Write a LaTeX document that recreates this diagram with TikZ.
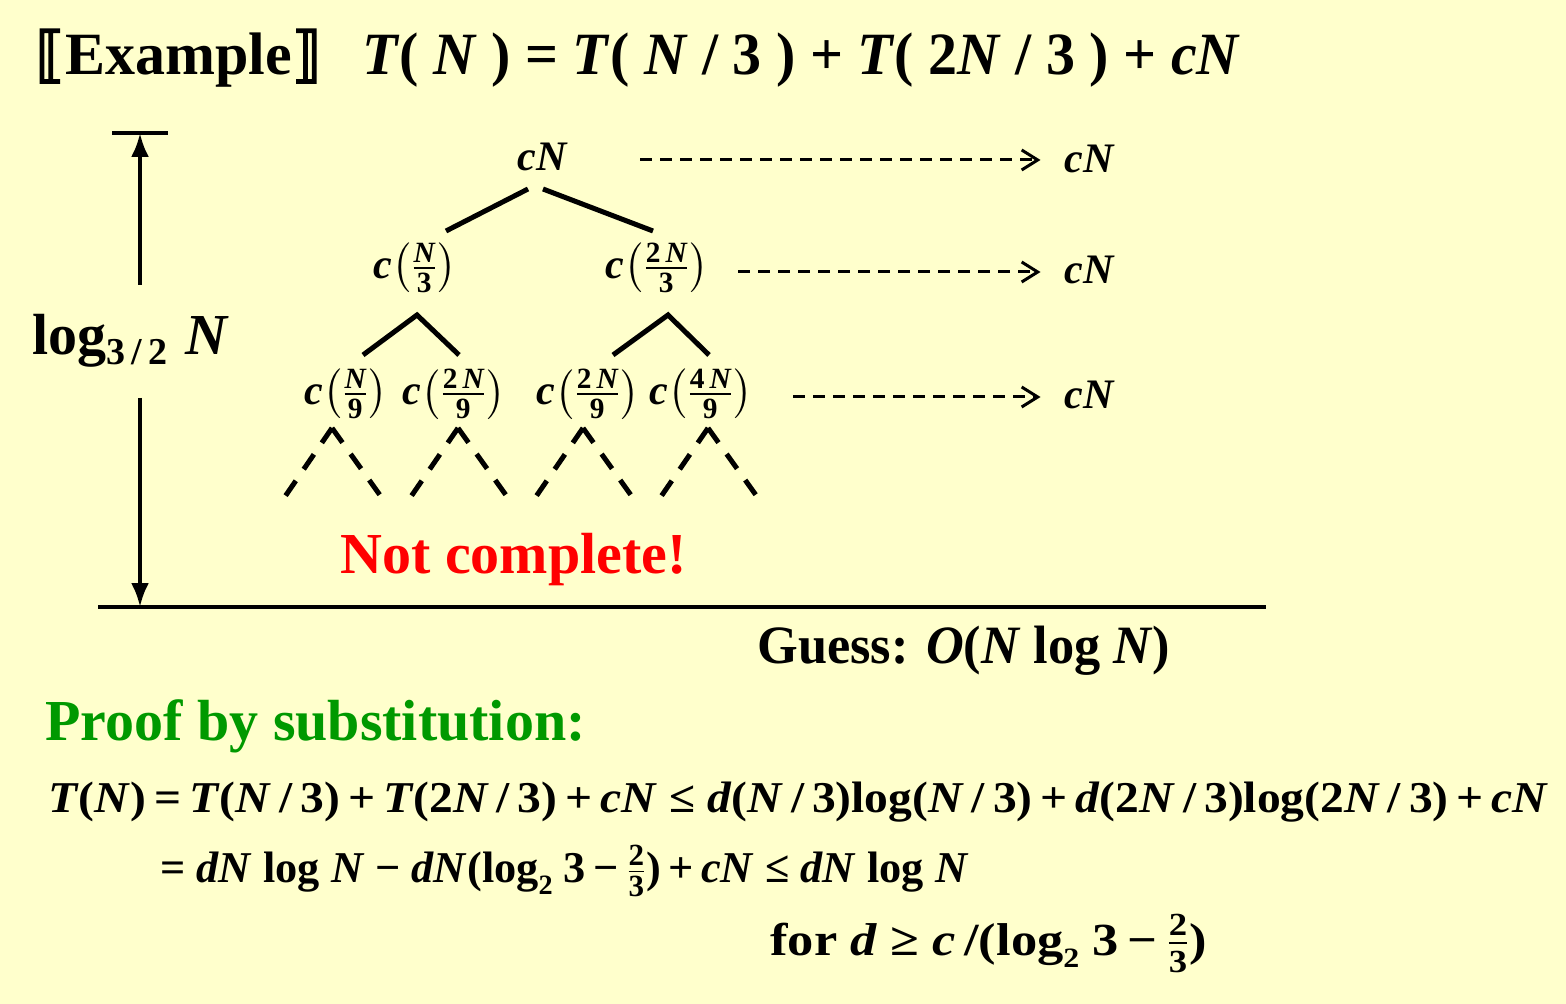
\documentclass[tikz,border=0pt]{standalone}
\usepackage{fontspec}
\usepackage{amsmath}
\usepackage{graphicx}
\setmainfont{Liberation Serif}
\newfontfamily\djv[FakeBold=3]{DejaVu Sans}
\usetikzlibrary{arrows.meta}
\definecolor{bgyellow}{RGB}{255,255,204}
\definecolor{proofgreen}{RGB}{0,153,0}
\definecolor{alertred}{RGB}{255,0,0}
\newcommand\bi[1]{\textbf{\textit{#1}}}
\newcommand\trfr[2]{\ensuremath{\left(\frac{\text{\bfseries #1}}{\text{\bfseries #2}}\right)}}
\newcommand\smfr[2]{\ensuremath{\frac{\text{\bfseries #1}}{\text{\bfseries #2}}}}
\newcommand\lsub[1]{\raisebox{-0.28em}{\fontsize{14}{16}\selectfont #1}}
\begin{document}
\begin{tikzpicture}[x=0.5pt,y=-0.5pt,
  big/.style={font=\fontsize{30}{36}\selectfont\bfseries, inner sep=0pt, anchor=base west},
  eqn/.style={font=\fontsize{22}{26}\selectfont\bfseries, inner sep=0pt, anchor=base west},
  tree/.style={font=\fontsize{21}{25}\selectfont\bfseries, inner sep=0pt},
  edge/.style={line width=2.5pt},
  dedge/.style={line width=2.5pt, dash pattern=on 9pt off 7pt},
  level/.style={line width=1.5pt, dash pattern=on 6pt off 4pt, shorten >=12pt,
    -{Straight Barb[length=8pt,width=10pt]}},
  meas/.style={line width=2pt, -{Latex[length=12pt,width=9pt]}},
  rule/.style={line width=2pt}]
\fill[bgyellow] (0,0) rectangle (1566,1004);
\useasboundingbox (0,0) rectangle (1566,1004);

% title
\node[big] (ex) at (35,75) {{\djv\mdseries ⟦}Example{\djv\mdseries ⟧}};
\node[big] (rec) at (362,75) {\resizebox{439pt}{\height}{\bi{T}( \bi{N} ) = \bi{T}( \bi{N} / 3 ) + \bi{T}( 2\bi{N} / 3 ) + \bi{cN}}};

% tree nodes
\node[tree] (n0) at (543,157) {\bi{cN}};
\node[tree] (n1) at (415,268) {\bi{c}\trfr{\itshape N}{3}};
\node[tree] (n2) at (657,268) {\bi{c}\trfr{2\,\itshape N}{3}};
\node[tree] (n3) at (346,394) {\bi{c}\trfr{\itshape N}{9}};
\node[tree] (n4) at (454,394) {\bi{c}\trfr{2\,\itshape N}{9}};
\node[tree] (n5) at (588,394) {\bi{c}\trfr{2\,\itshape N}{9}};
\node[tree] (n6) at (701,394) {\bi{c}\trfr{4\,\itshape N}{9}};

% level sums
\node[tree] (r0) at (1090,159) {\bi{cN}};
\node[tree] (r1) at (1090,270) {\bi{cN}};
\node[tree] (r2) at (1090,395) {\bi{cN}};
\coordinate (s0) at (640,160);
\coordinate (s1) at (738,272);
\coordinate (s2) at (793,397);
\draw[level] (s0) -- (s0 -| r0.west);
\draw[level] (s1) -- (s1 -| r1.west);
\draw[level] (s2) -- (s2 -| r2.west);

% tree edges
\draw[edge] ([shift={(-15,32)}]n0.center) -- ([shift={(31,-37)}]n1.center);
\draw[edge] ([shift={(0,32)}]n0.center) -- ([shift={(-4,-37)}]n2.center);
\draw[edge] ([shift={(17,-39)}]n3.center) -- ([shift={(2,47)}]n1.center) -- ([shift={(5,-39)}]n4.center);
\draw[edge] ([shift={(25,-39)}]n5.center) -- ([shift={(11,47)}]n2.center) -- ([shift={(8,-39)}]n6.center);

% incomplete lower levels
\coordinate (a3) at ([shift={(-14,34)}]n3.center);
\coordinate (a4) at ([shift={(4,34)}]n4.center);
\coordinate (a5) at ([shift={(-5,34)}]n5.center);
\coordinate (a6) at ([shift={(7,34)}]n6.center);
\foreach \a in {a3,a4,a5,a6}{
  \draw[dedge] (\a) -- ++(-48,70);
  \draw[dedge] (\a) -- ++(50,70);
}

\node[font=\fontsize{29}{34}\selectfont\bfseries, text=alertred, inner sep=0pt, anchor=base west] (nc) at (340,573) {Not complete!};

% height measure
\coordinate (bt) at (140,133);
\coordinate (bb) at (140,607);
\draw[rule] (112,133) -- (168,133);
\draw[rule] (98,607) -- (1266,607);
\node[font=\fontsize{29}{34}\selectfont\bfseries, inner sep=0pt, anchor=base west] (lg) at (32,355)
  {log\raisebox{-5pt}{\fontsize{19}{22}\selectfont 3\,/\,2}\hspace{0.3em}\bi{N}};
\draw[meas] (140,285) -- (bt);
\draw[meas] (140,398) -- (bb);

% guess
\node[font=\fontsize{27}{32}\selectfont\bfseries, inner sep=0pt, anchor=base west] (gs) at (757,663)
  {\resizebox{206.5pt}{\height}{Guess: \bi{O}(\bi{N} log \bi{N})}};

% proof
\node[font=\fontsize{29}{34}\selectfont\bfseries, text=proofgreen, inner sep=0pt, anchor=base west] (pf) at (45,740) {Proof by substitution:};
\node[eqn] (e1) at (48,812) {\resizebox{750pt}{\height}{\bi{T}(\bi{N})\,=\,\bi{T}(\bi{N}\,/\,3)\,+\,\bi{T}(2\bi{N}\,/\,3)\,+\,\bi{cN} ≤ \bi{d}(\bi{N}\,/\,3)log(\bi{N}\,/\,3)\,+\,\bi{d}(2\bi{N}\,/\,3)log(2\bi{N}\,/\,3)\,+\,\bi{cN}}};
\node[eqn] (e2) at (160,882) {\resizebox{404pt}{\height}{= \bi{dN} log \bi{N} − \bi{dN}(log\lsub{2} 3\,−\,\smfr{2}{3})\,+\,\bi{cN} ≤ \bi{dN} log \bi{N}}};
\node[eqn, font=\fontsize{23}{27}\selectfont\bfseries] (e3) at (770,955) {\resizebox{218.5pt}{\height}{for \bi{d} ≥ \bi{c}\,/(log\lsub{2} 3\,−\,\smfr{2}{3})}};
\end{tikzpicture}
\end{document}
